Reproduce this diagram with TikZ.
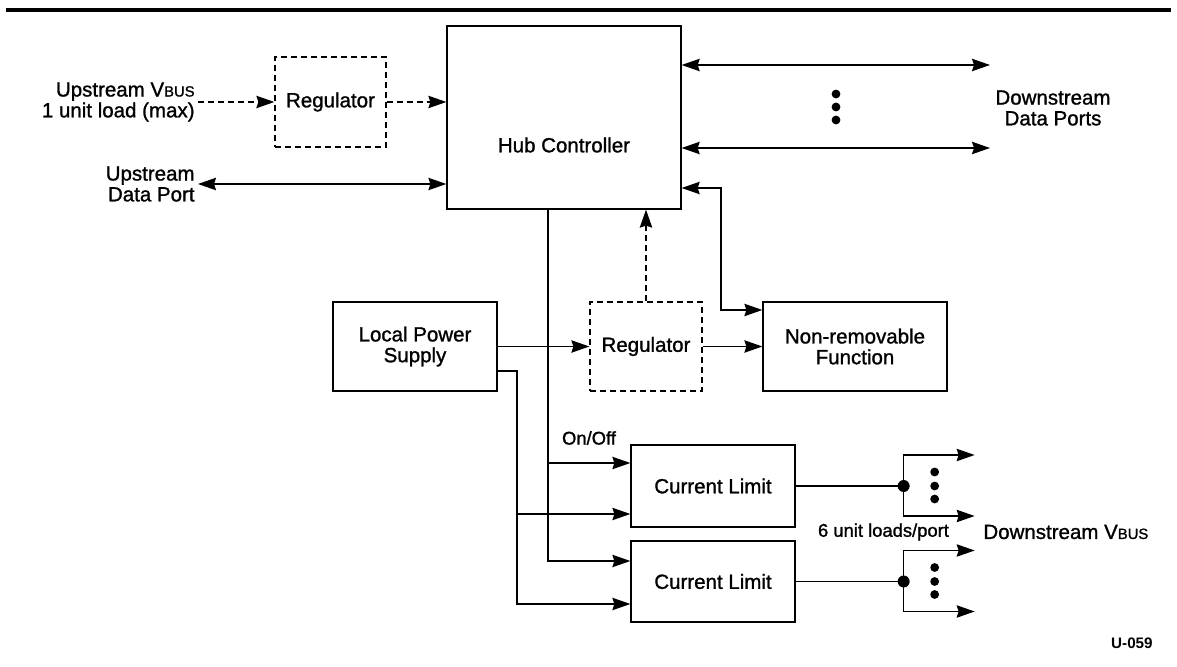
\documentclass[tikz,border=0pt]{standalone}
\usepackage{fontspec}
\setmainfont{Liberation Sans}[BoldFont=Liberation Sans,BoldFeatures={FakeBold=1.2}]
\newfontfamily\IdFont{Liberation Sans}
\usetikzlibrary{arrows.meta,positioning,calc}
\newcommand{\BoxFont}{\fontsize{10.25}{10.4}\selectfont\bfseries}
\newcommand{\LabFont}{\fontsize{9.2}{10}\selectfont\bfseries}
\newcommand{\Vbus}{V{\fontsize{7.4}{8}\selectfont BUS}}
\newcommand{\DotCol}[2]{%
  \foreach \d in {-13,0,13} {\fill (#1,#2+\d) circle (2.2pt);}%
}

\begin{document}
\begin{tikzpicture}[x=0.5pt,y=-0.5pt,font=\BoxFont,
  >={Stealth[length=9pt,width=6.2pt,inset=1pt]},
  box/.style={draw,line width=0.65pt,align=center,inner sep=0pt},
  dashbox/.style={box,dash pattern=on 3pt off 2pt},
  wire/.style={line width=0.65pt},
  dashline/.style={line width=0.65pt,dash pattern=on 3pt off 2pt}]
\useasboundingbox (0,0) rectangle (1177,667);
\draw[line width=1.6pt] (6,10) -- (1171,10);

% blocks
\node[dashbox,minimum width=55.5pt,minimum height=45pt] (reg1) at (330.5,102) {Regulator};
\node[box,minimum width=117pt,minimum height=91.5pt] (hub) at (564,117.5) {};
\node (hubtxt) at (564,145) {Hub Controller};
\node[box,minimum width=82pt,minimum height=44.5pt] (lps) at (415,346.5) {Local Power\\Supply};
\node[dashbox,minimum width=56pt,minimum height=44.5pt] (reg2) at (646,346.5) {Regulator};
\node[box,minimum width=92pt,minimum height=44.5pt] (nrf) at (855,346.5) {Non-removable\\Function};
\node[box,minimum width=82pt,minimum height=41pt] (cl1) at (713,486) {Current Limit};
\node[box,minimum width=82pt,minimum height=40.5pt] (cl2) at (713,581.5) {Current Limit};

% texts
\node[anchor=east,align=right,inner sep=1.5pt] (upvbus) at (198,102) {Upstream \Vbus\\1 unit load (max)};
\node[anchor=east,align=right,inner sep=1.5pt] (updata) at (198,184) {Upstream\\Data Port};
\node[align=center] (dndata) at (1053,108) {Downstream\\Data Ports};
\node[font=\LabFont] (onoff) at (589,438) {On/Off};
\node[font=\LabFont] (perport) at (883.5,532) {6 unit loads/port};
\node[anchor=west,inner sep=0pt] (dnvbus) at (983,532) {Downstream \Vbus};
\node[anchor=east,inner sep=0pt,font=\IdFont\bfseries\fontsize{7.6}{8}\selectfont] (figid) at (1153,643) {U-059};

% upstream side
\draw[dashline,->] (upvbus.east) -- (reg1.west);
\draw[dashline,->] (reg1.east) -- (reg1.east -| hub.west);
\draw[wire,<->] (updata.east) -- (updata.east -| hub.west);

% downstream data ports
\coordinate (dp1) at (990,65);
\coordinate (dp2) at (990,148);
\draw[wire,<->] (hub.east |- dp1) -- (dp1);
\draw[wire,<->] (hub.east |- dp2) -- (dp2);
\DotCol{836}{107}

% local power and non-removable function
\coordinate (fb1) at (721,188);
\coordinate (fb2) at (721,310);
\draw[wire,<->] (hub.east |- fb1) -- (fb1) -- (fb2) -- (fb2 -| nrf.west);
\draw[dashline,->] (reg2.north) -- (reg2.north |- hub.south);
\draw[wire,->] (lps.east) -- (reg2.west);
\draw[wire,->] (reg2.east) -- (nrf.west);

% on/off control
\coordinate (on1) at (548,463);
\coordinate (on2) at (548,561);
\draw[wire,->] (hub.south -| on1) -- (on2) -- (on2 -| cl2.west);
\draw[wire,->] (on1) -- (on1 -| cl1.west);

% port power
\coordinate (pw0) at (517,371);
\coordinate (pw1) at (517,514);
\coordinate (pw2) at (517,604);
\draw[wire,->] (lps.east |- pw0) -- (pw0) -- (pw2) -- (pw2 -| cl2.west);
\draw[wire,->] (pw1) -- (pw1 -| cl1.west);

% downstream vbus
\foreach \c in {cl1,cl2} {
  \coordinate (\c j) at ($(\c.east)+(108,0)$);
  \coordinate (\c u) at ($(\c j)+(71,-31)$);
  \coordinate (\c d) at ($(\c j)+(71,30)$);
  \draw[wire] (\c.east) -- (\c j);
  \fill (\c j) circle (3pt);
  \draw[wire,->] (\c j) |- (\c u);
  \draw[wire,->] (\c j) |- (\c d);
  \foreach \d in {-14,0,13} {\fill ($(\c j)+(31,\d)$) circle (2.2pt);}
}
\end{tikzpicture}
\end{document}
